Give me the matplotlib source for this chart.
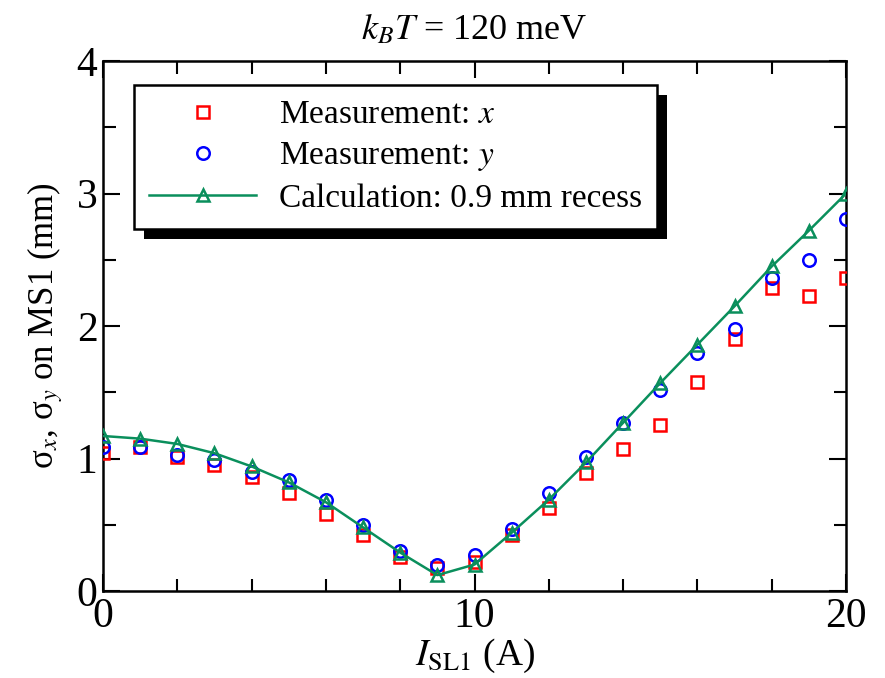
import numpy as np
import matplotlib
matplotlib.use("Agg")
import matplotlib.pyplot as plt
from matplotlib.patches import Rectangle
from matplotlib.transforms import IdentityTransform
from matplotlib.ticker import MultipleLocator

plt.rcParams['font.family'] = ['Liberation Serif', 'DejaVu Serif']
plt.rcParams['mathtext.fontset'] = 'stix'

current = [0, 1, 2, 3, 4, 5, 6, 7, 8, 9, 10, 11, 12, 13, 14, 15, 16, 17, 18, 19, 20]
meas_x = [1.04, 1.09, 1.01, 0.95, 0.86, 0.74, 0.58, 0.42, 0.26, 0.17, 0.22, 0.42,
          0.63, 0.89, 1.07, 1.25, 1.58, 1.90, 2.29, 2.23, 2.36]
meas_y = [1.09, 1.09, 1.03, 0.99, 0.90, 0.84, 0.69, 0.50, 0.30, 0.20, 0.27, 0.47,
          0.74, 1.01, 1.27, 1.52, 1.80, 1.98, 2.36, 2.50, 2.81]
calc = [1.17, 1.15, 1.11, 1.04, 0.94, 0.82, 0.67, 0.48, 0.29, 0.12, 0.20, 0.44,
        0.69, 0.97, 1.27, 1.57, 1.86, 2.15, 2.45, 2.72, 3.00]

green = '#0a8f5c'

fig = plt.figure(figsize=(8.85, 6.78), dpi=100)
ax = fig.add_axes([0.1164, 0.1283, 0.8396, 0.7817])

ax.plot(current, meas_x, 's', ms=9, mfc='none', mec='red', mew=1.8,
        label='Measurement: $x$', zorder=3)
ax.plot(current, meas_y, 'o', ms=9, mfc='none', mec='blue', mew=1.8,
        label='Measurement: $y$', zorder=3)
ax.plot(current, calc, '-^', color=green, lw=1.8, ms=9, mfc='none', mec=green,
        mew=1.8, label='Calculation: 0.9 mm recess', zorder=4)

ax.set_xlim(0, 20)
ax.set_ylim(0, 4)
ax.xaxis.set_major_locator(MultipleLocator(10))
ax.xaxis.set_minor_locator(MultipleLocator(2))
ax.yaxis.set_major_locator(MultipleLocator(1))
ax.yaxis.set_minor_locator(MultipleLocator(0.5))
ax.tick_params(which='both', direction='in', top=True, right=True, width=1.5)
ax.tick_params(which='major', length=12, labelsize=30)
ax.tick_params(axis='x', which='major', pad=5)
ax.tick_params(axis='y', which='major', pad=4)
ax.tick_params(which='minor', length=9)
for s in ax.spines.values():
    s.set_linewidth(1.8)

ax.set_xlabel(r'$I_{\rm SL1}$ (A)', fontsize=27, labelpad=0)
ax.set_ylabel('σ$_x$, σ$_y$ on MS1 (mm)', fontsize=25, labelpad=8)
ax.set_title(r'$k_BT$ = 120 meV', fontsize=26, pad=16)

leg = ax.legend(loc='upper left', bbox_to_anchor=(0.042, 0.955), borderaxespad=0,
                fontsize=24, frameon=True, fancybox=False, edgecolor='black',
                framealpha=1, handlelength=3.2, handletextpad=0.7,
                labelspacing=0.3, borderpad=0.45)
leg.get_frame().set_linewidth(1.8)
leg.set_zorder(5)

fig.canvas.draw()
bb = leg.get_window_extent()
shadow = Rectangle((bb.x0 + 10, bb.y0 - 10), bb.width, bb.height,
                   transform=IdentityTransform(), facecolor='black',
                   edgecolor='none', zorder=4.9, clip_on=False)
ax.add_artist(shadow)

fig.savefig('out.png', dpi=100)
